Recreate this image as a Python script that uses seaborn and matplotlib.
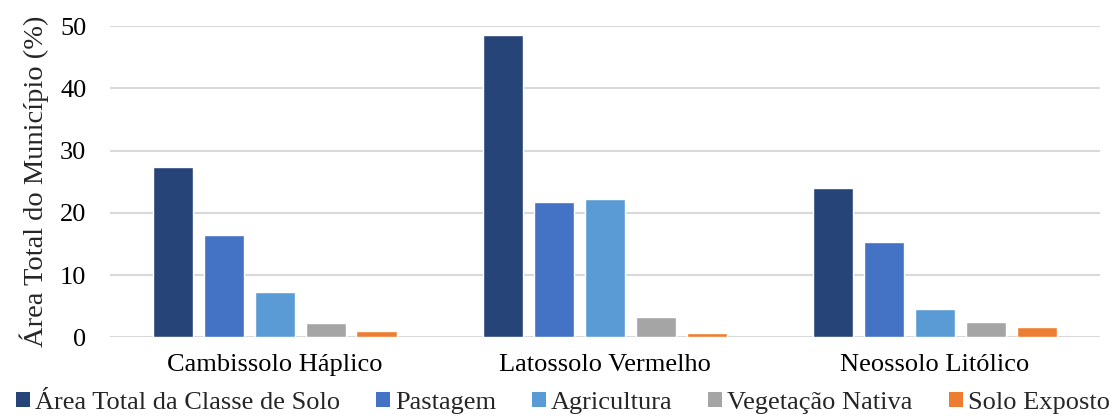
import matplotlib
matplotlib.use("Agg")
import matplotlib.pyplot as plt
import seaborn as sns
import pandas as pd
from matplotlib.patches import Patch

# Soil classes and land-use shares (% of the municipality area)
classes = ["Cambissolo Háplico", "Latossolo Vermelho", "Neossolo Litólico"]
series = ["Área Total da Classe de Solo", "Pastagem", "Agricultura",
          "Vegetação Nativa", "Solo Exposto"]
area_total = [27.3, 48.5, 24.0]
pastagem = [16.4, 21.7, 15.3]
agricultura = [7.3, 22.2, 4.6]
vegetacao = [2.3, 3.2, 2.4]
solo_exposto = [1.1, 0.75, 1.6]
colors = ["#264478", "#4472C4", "#5B9BD5", "#A5A5A5", "#ED7D31"]

values = [area_total, pastagem, agricultura, vegetacao, solo_exposto]
rows = []
for name, vals in zip(series, values):
    for cls, v in zip(classes, vals):
        rows.append({"Classe": cls, "Série": name, "Valor": v})
df = pd.DataFrame(rows)

sns.set_style("white")
plt.rcParams["font.family"] = ["Liberation Serif", "DejaVu Serif"]
FS = 19

fig = plt.figure(figsize=(11.1, 4.17), dpi=100)
ax = fig.add_axes([0.099, 0.191, 0.892, 0.7466])

sns.barplot(data=df, x="Classe", y="Valor", hue="Série", hue_order=series,
            order=classes, palette=colors, width=0.77, gap=0.21,
            saturation=1, ax=ax, legend=False, zorder=3)

ax.set_ylim(0, 50)
ax.set_yticks([0, 10, 20, 30, 40, 50])
ax.grid(axis="y", color="#d9d9d9", linewidth=1.5, zorder=0)
ax.set_axisbelow(True)
for s in ax.spines.values():
    s.set_visible(False)
ax.tick_params(axis="both", length=0, labelsize=FS, colors="#000000")
ax.tick_params(axis="y", pad=17)
ax.tick_params(axis="x", pad=12)
ax.set_xlabel("")
ax.set_ylabel("Área Total do Município (%)", fontsize=20.5, labelpad=8)

handles = [Patch(facecolor=c, edgecolor="none") for c in colors]
fig.legend(handles, series, loc="center", bbox_to_anchor=(0.507, 0.034),
           ncol=5, frameon=False, fontsize=FS, handlelength=0.53,
           handleheight=0.53, handletextpad=0.19, columnspacing=1.36,
           borderaxespad=0)

fig.savefig("out.png", dpi=100)
